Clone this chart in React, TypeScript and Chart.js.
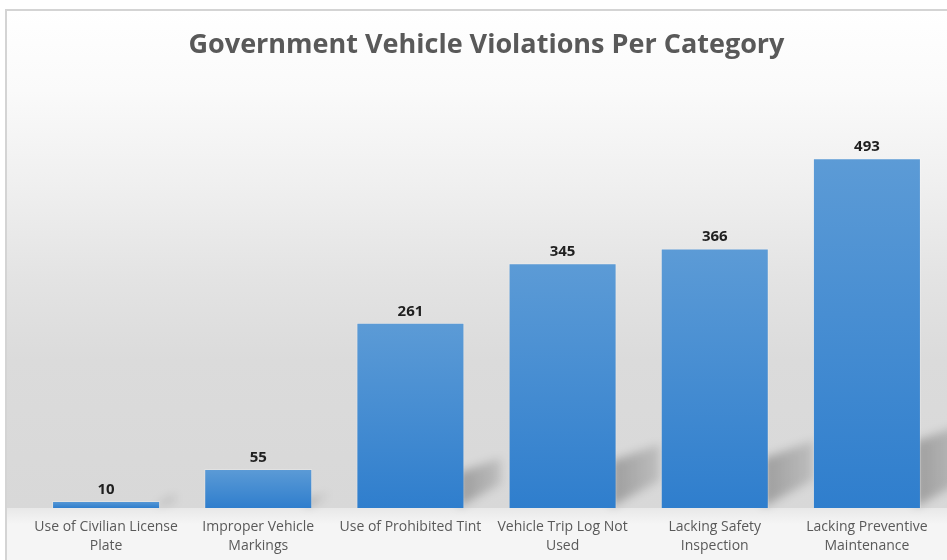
import React, { useEffect, useRef } from "react";
import { Chart, registerables } from "chart.js";

Chart.register(...registerables);

const categories: string[][] = [
  ["Use of Civilian License", "Plate"],
  ["Improper Vehicle", "Markings"],
  ["Use of Prohibited Tint"],
  ["Vehicle Trip Log Not", "Used"],
  ["Lacking Safety", "Inspection"],
  ["Lacking Preventive", "Maintenance"],
];
const violations: number[] = [10, 55, 261, 345, 366, 493];
const chartTitle = "Government Vehicle Violations Per Category";
const yMax = 600;

const FONT = "'Open Sans', 'Noto Sans', sans-serif";

const backgroundPlugin = {
  id: "bgWall",
  beforeDraw(chart: any) {
    const { ctx, width, height } = chart;
    const base = chart.scales.y.getPixelForValue(0);
    ctx.save();
    ctx.fillStyle = "#ffffff";
    ctx.fillRect(0, 0, width, height);
    const top = 10;
    const left = 6;
    const g = ctx.createLinearGradient(0, top, 0, base);
    g.addColorStop(0, "#ffffff");
    g.addColorStop((90 - top) / (base - top), "#fafafa");
    g.addColorStop((180 - top) / (base - top), "#f0f0f0");
    g.addColorStop((280 - top) / (base - top), "#e3e3e3");
    g.addColorStop((360 - top) / (base - top), "#dbdbdb");
    g.addColorStop(1, "#d8d8d8");
    ctx.fillStyle = g;
    ctx.fillRect(left, top, width - left, base - top);
    const f = ctx.createLinearGradient(0, base, 0, base + 16);
    f.addColorStop(0, "#e8e8e8");
    f.addColorStop(1, "#f5f5f5");
    ctx.fillStyle = f;
    ctx.fillRect(left, base, width - left, height - base);
    ctx.strokeStyle = "#d4d4d4";
    ctx.lineWidth = 2;
    ctx.beginPath();
    ctx.moveTo(left, height);
    ctx.lineTo(left, top);
    ctx.lineTo(width, top);
    ctx.stroke();
    ctx.restore();
  },
  beforeDatasetsDraw(chart: any) {
    const { ctx } = chart;
    const meta = chart.getDatasetMeta(0);
    ctx.save();
    ctx.filter = "blur(5px)";
    meta.data.forEach((bar: any) => {
      const right = bar.x + bar.width / 2;
      const h = bar.base - bar.y;
      const sh = Math.min(0.19 * h, 70);
      const dx = Math.min(46, 14 + h * 0.12);
      const g = ctx.createLinearGradient(right, 0, right + dx, 0);
      g.addColorStop(0, "rgba(0,0,0,0.26)");
      g.addColorStop(1, "rgba(0,0,0,0.12)");
      ctx.fillStyle = g;
      ctx.beginPath();
      ctx.moveTo(right - 6, bar.base - 1);
      ctx.lineTo(right - 6, bar.base - sh);
      ctx.lineTo(right + dx, bar.base - sh - dx * 0.4);
      ctx.lineTo(right + dx, bar.base - 6 - dx * 0.5);
      ctx.closePath();
      ctx.fill();
    });
    ctx.restore();
  },
  afterDatasetsDraw(chart: any) {
    const { ctx } = chart;
    const meta = chart.getDatasetMeta(0);
    ctx.save();
    ctx.font = `bold 15px ${FONT}`;
    ctx.fillStyle = "#1f1f1f";
    ctx.textAlign = "center";
    ctx.textBaseline = "bottom";
    meta.data.forEach((bar: any, i: number) => {
      ctx.fillText(String(violations[i]), bar.x, bar.y - 4);
    });
    ctx.restore();
  },
};

export default function App() {
  const ref = useRef<HTMLCanvasElement | null>(null);
  useEffect(() => {
    if (!ref.current) return;
    const chart = new Chart(ref.current, {
      type: "bar",
      data: {
        labels: categories,
        datasets: [
          {
            data: violations,
            backgroundColor: (c: any) => {
              const ch = c.chart;
              const y = ch.scales?.y;
              if (!y || c.raw === undefined) return "#4a8fd4";
              const yt = y.getPixelForValue(c.raw);
              const yb = y.getPixelForValue(0);
              if (!isFinite(yt) || !isFinite(yb) || yb - yt < 1) return "#4a8fd4";
              const g = ch.ctx.createLinearGradient(0, yt, 0, yb);
              g.addColorStop(0, "#5c9bd6");
              g.addColorStop(1, "#2f7ecd");
              return g;
            },
            borderColor: "rgba(255,255,255,0.25)",
            borderWidth: 1,
            categoryPercentage: 1,
            barPercentage: 0.71,
          },
        ],
      },
      options: {
        responsive: false,
        animation: false,
        layout: { padding: { left: 30, right: 4, top: 0, bottom: 0 } },
        plugins: {
          legend: { display: false },
          tooltip: { enabled: false },
          title: {
            display: true,
            text: chartTitle,
            color: "#595959",
            font: { family: FONT, size: 27, weight: "bold" },
            padding: { top: 29, bottom: 21 },
          },
        },
        scales: {
          x: {
            grid: { display: false, drawTicks: false },
            border: { display: false },
            afterFit: (scale: any) => {
              scale.height = 52;
            },
            ticks: {
              color: "#595959",
              font: { family: FONT, size: 14, lineHeight: 1.36 },
              padding: 9,
              maxRotation: 0,
              autoSkip: false,
            },
          },
          y: {
            display: false,
            min: 0,
            max: yMax,
          },
        },
      },
      plugins: [backgroundPlugin],
    });
    return () => chart.destroy();
  }, []);
  return (
    <div style={{ position: "absolute", left: 0, top: 0, width: 947, height: 560 }}>
      <canvas ref={ref} width={947} height={560} />
    </div>
  );
}
